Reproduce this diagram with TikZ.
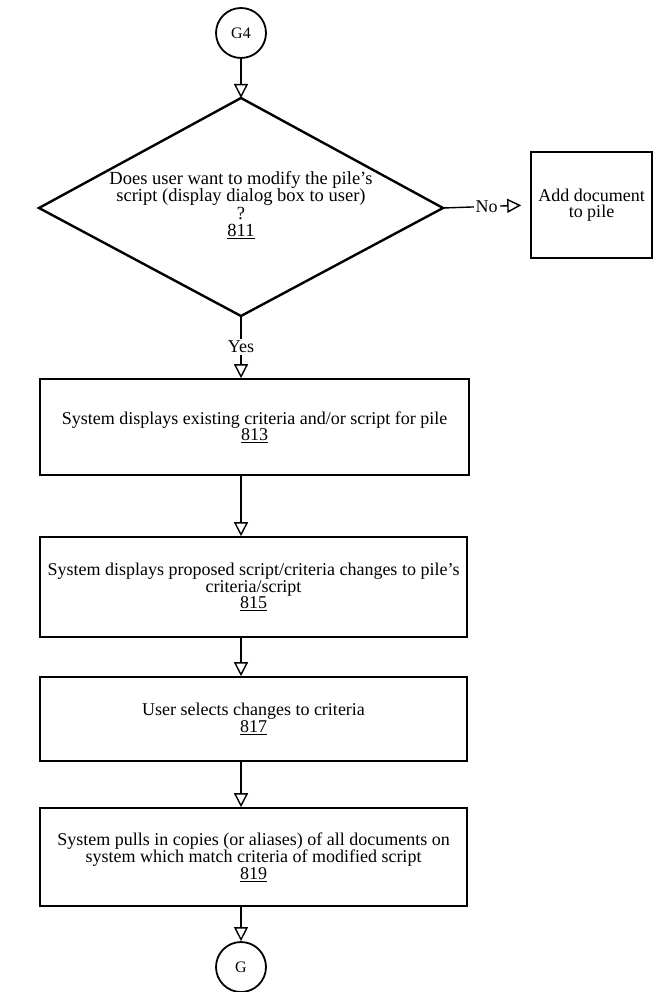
\documentclass[tikz,border=0pt]{standalone}
\usepackage{fontspec}
\setmainfont{Liberation Serif}
\usetikzlibrary{arrows.meta}

\begin{document}
\begin{tikzpicture}[x=1pt,y=-1pt,
  procbox/.style={draw,line width=1.6pt,align=center,inner sep=0pt,font=\fontsize{18}{16.5}\selectfont},
  connector/.style={draw,circle,line width=1.8pt,minimum size=50pt,inner sep=0pt,font=\fontsize{16}{16}\selectfont},
  flow/.style={line width=1.4pt,-{Triangle[open,length=14pt,width=14pt,fill=white]}},
  lbl/.style={fill=white,inner sep=2pt,font=\fontsize{18}{18}\selectfont}]
\useasboundingbox (0,0) rectangle (653,992);
% connectors in and out
\node[connector] (g4) at (241,33) {G4};
\node[connector] (g) at (241,967) {G};
% decision 811, drawn as a path
\coordinate (dtop) at (241,98);
\coordinate (dright) at (443,208);
\coordinate (dbot) at (241,316);
\coordinate (dleft) at (39,208);
\draw[line width=2.4pt,line join=miter] (dtop) -- (dright) -- (dbot) -- (dleft) -- cycle;
\node[align=center,inner sep=0pt,font=\fontsize{18.5}{15.5}\selectfont] (d811) at (241,205)
  {Does user want to modify the pile's\\script (display dialog box to user)\\?\\[2pt]\underline{811}};
% side branch
\node[procbox,minimum width=121pt,minimum height=106pt] (add) at (591.5,205) {Add document\\to pile};
% main column
\node[procbox,minimum width=429pt,minimum height=96pt] (b813) at (254.5,427) {System displays existing criteria and/or script for pile\\\underline{813}};
\node[procbox,minimum width=427pt,minimum height=100pt] (b815) at (253.5,587) {System displays proposed script/criteria changes to pile's\\criteria/script\\\underline{815}};
\node[procbox,minimum width=427pt,minimum height=84pt] (b817) at (253.5,719) {User selects changes to criteria\\\underline{817}};
\node[procbox,minimum width=427pt,minimum height=98pt] (b819) at (253.5,857) {System pulls in copies (or aliases) of all documents on\\system which match criteria of modified script\\\underline{819}};
% arrows
\draw[flow] (g4) -- (dtop);
\draw[flow,shorten >=9pt] (dright) -- node[lbl]{No} (add.west);
\draw[flow] (dbot) -- node[lbl]{Yes} (dbot |- b813.north);
\draw[flow] (b813.south -| g4) -- (b815.north -| g4);
\draw[flow] (b815.south -| g4) -- (b817.north -| g4);
\draw[flow] (b817.south -| g4) -- (b819.north -| g4);
\draw[flow] (b819.south -| g4) -- (g);
\end{tikzpicture}
\end{document}
